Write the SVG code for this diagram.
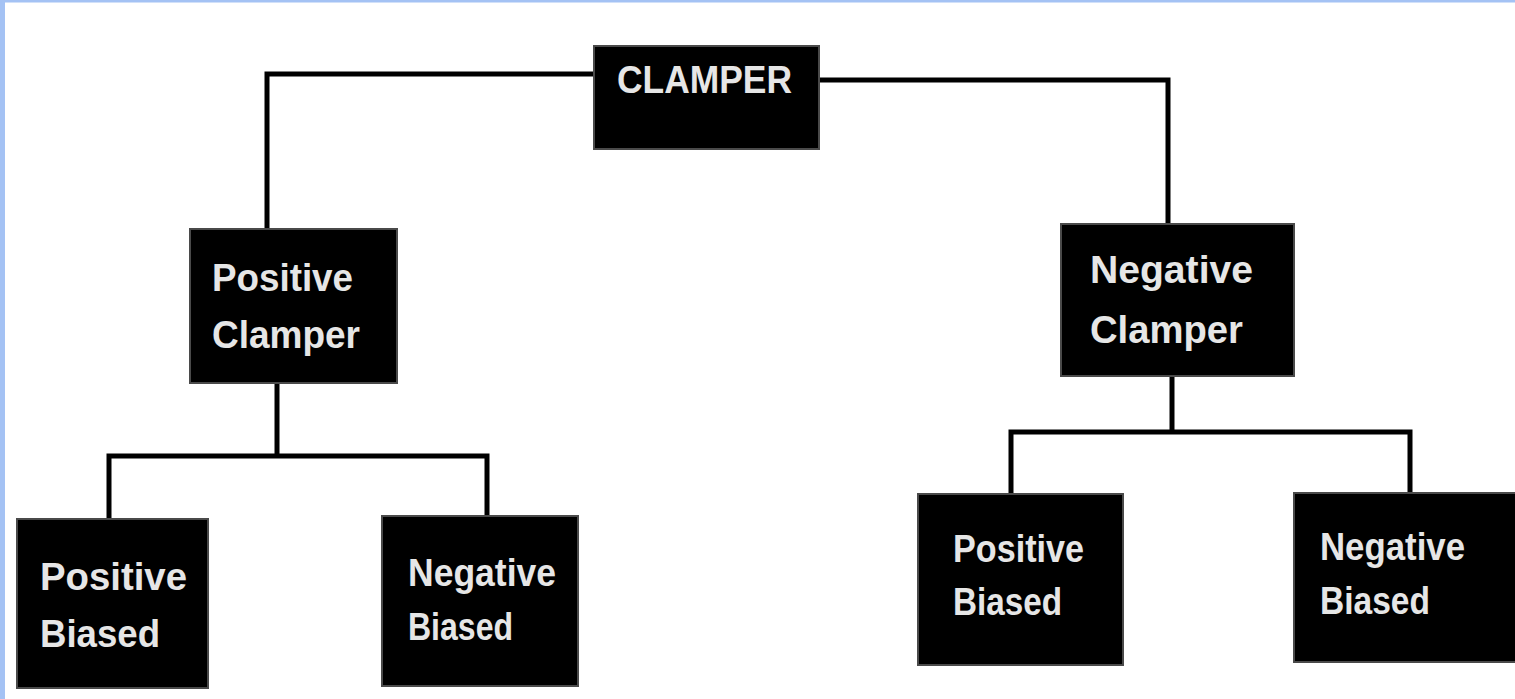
<svg xmlns="http://www.w3.org/2000/svg" width="1515" height="699" viewBox="0 0 1515 699">
<style>
.box{fill:#000;stroke:#4a4a4a;stroke-width:2}
.t{font-family:"Liberation Sans",Arial,sans-serif;font-weight:bold;fill:#e6e6e6;font-size:38px}
.c{fill:none;stroke:#000;stroke-width:5}
</style>
<rect x="0" y="0" width="1515" height="699" fill="#fff"/>
<rect x="0" y="0" width="1515" height="2.5" fill="#a4c2f4"/>
<rect x="0" y="0" width="5" height="699" fill="#a4c2f4"/>
<g id="connectors">
<path class="c" d="M594,74 H267 V229"/>
<path class="c" d="M819,80 H1168 V224"/>
<path class="c" d="M277,383 V456"/>
<path class="c" d="M109,519 V456 H487 V516"/>
<path class="c" d="M1172,376 V432"/>
<path class="c" d="M1011,494 V432 H1410 V493"/>
</g>
<g id="clamper">
<rect class="box" x="594" y="46" width="225" height="103"/>
<text class="t" x="617" y="93" textLength="175" lengthAdjust="spacingAndGlyphs">CLAMPER</text>
</g>
<g id="positive-clamper">
<rect class="box" x="190" y="229" width="207" height="154"/>
<text class="t" x="212" y="291" textLength="141" lengthAdjust="spacingAndGlyphs">Positive</text>
<text class="t" x="212" y="348" textLength="148" lengthAdjust="spacingAndGlyphs">Clamper</text>
</g>
<g id="negative-clamper">
<rect class="box" x="1061" y="224" width="233" height="152"/>
<text class="t" x="1090" y="283" textLength="163" lengthAdjust="spacingAndGlyphs">Negative</text>
<text class="t" x="1090" y="343" textLength="153" lengthAdjust="spacingAndGlyphs">Clamper</text>
</g>
<g id="pc-positive-biased">
<rect class="box" x="17" y="519" width="191" height="169"/>
<text class="t" x="40" y="590" textLength="147" lengthAdjust="spacingAndGlyphs">Positive</text>
<text class="t" x="40" y="647" textLength="120" lengthAdjust="spacingAndGlyphs">Biased</text>
</g>
<g id="pc-negative-biased">
<rect class="box" x="382" y="516" width="196" height="170"/>
<text class="t" x="408" y="586" textLength="148" lengthAdjust="spacingAndGlyphs">Negative</text>
<text class="t" x="408" y="640" textLength="105" lengthAdjust="spacingAndGlyphs">Biased</text>
</g>
<g id="nc-positive-biased">
<rect class="box" x="918" y="494" width="205" height="171"/>
<text class="t" x="953" y="562" textLength="131" lengthAdjust="spacingAndGlyphs">Positive</text>
<text class="t" x="953" y="615" textLength="109" lengthAdjust="spacingAndGlyphs">Biased</text>
</g>
<g id="nc-negative-biased">
<rect class="box" x="1294" y="493" width="225" height="169"/>
<text class="t" x="1320" y="560" textLength="145" lengthAdjust="spacingAndGlyphs">Negative</text>
<text class="t" x="1320" y="614" textLength="110" lengthAdjust="spacingAndGlyphs">Biased</text>
</g>
</svg>
